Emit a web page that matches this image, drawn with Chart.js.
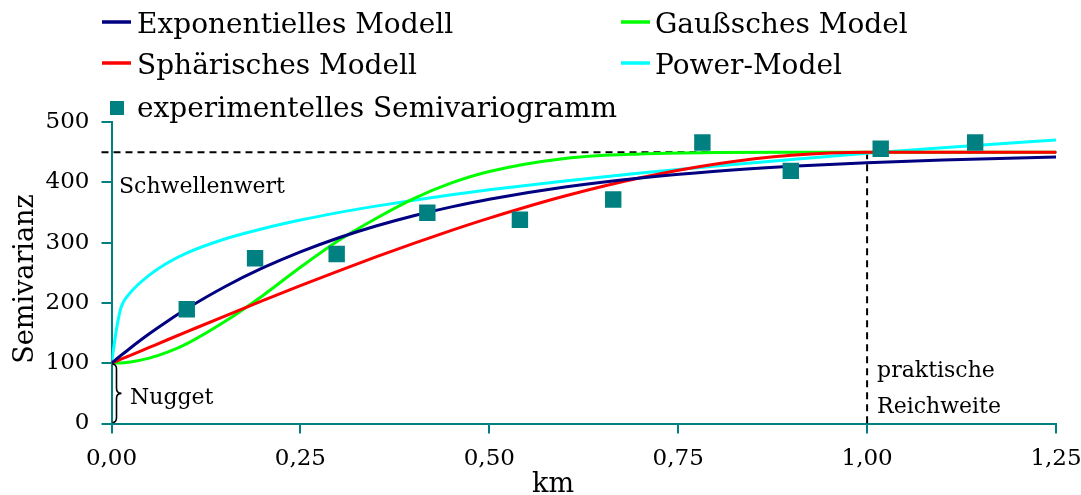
<!DOCTYPE html>
<html>
<head>
<meta charset="utf-8">
<script src="https://cdn.jsdelivr.net/npm/chart.js@4"></script>
<style>
  html, body { margin: 0; padding: 0; background: #ffffff; }
  #wrap { width: 1081px; height: 495px; position: relative; }
</style>
</head>
<body>
<div id="wrap"><canvas id="c" width="1081" height="495"></canvas></div>
<script>
// ---- data ----
const hKm = [0, 0.0025, 0.0075, 0.0125, 0.025, 0.05, 0.075, 0.1, 0.15, 0.2, 0.25, 0.3, 0.35, 0.4, 0.45, 0.5, 0.6, 0.7, 0.8, 0.9, 1.0, 1.1, 1.25];
const exponentiell = [100, 102.6, 107.8, 112.9, 125.3, 148.8, 170.5, 190.7, 226.8, 257.9, 284.7, 307.7, 327.5, 344.6, 359.3, 371.9, 392.1, 407.1, 418.3, 426.5, 432.6, 437.1, 441.8];
const sphaerisch = [100, 101.3, 103.9, 106.6, 113.1, 126.2, 139.3, 152.3, 178.2, 203.6, 228.5, 252.8, 276.3, 298.8, 320.3, 340.6, 377.2, 407.5, 430.4, 444.9, 450, 450, 450];
const gauss = [100, 100, 100.2, 100.5, 102.1, 108.4, 118.7, 132.6, 169.1, 212, 259, 303, 340, 373, 399, 418, 439.6, 447.1, 449.3, 449.9, 450, 450, 450];
const power = [100, 122, 163, 192, 217, 246, 267, 283, 306, 323, 337.4, 349.7, 360.5, 370.3, 379.2, 387.5, 402.2, 415.4, 427.2, 438, 448, 457.3, 470];

const expLagKm = [0.0996, 0.190, 0.298, 0.418, 0.5405, 0.664, 0.782, 0.899, 1.018, 1.143];
const expGamma = [189.5, 274, 281, 349.4, 337.8, 371.5, 466, 419, 455.6, 466];

const xTickLabels = ['0,00', '0,25', '0,50', '0,75', '1,00', '1,25'];
const yTickLabels = ['0', '100', '200', '300', '400', '500'];

const schwellenwert = 450;   // sill
const nugget = 100;
const reichweite = 1.0;      // practical range (km)

const labels = ['experimentelles Semivariogramm', 'Exponentielles Modell', 'Sphärisches Modell', 'Gaußsches Model', 'Power-Model'];

// ---- helpers ----
const pts = (xs, ys) => xs.map((x, i) => ({ x: x, y: ys[i] }));
const TEAL = '#008080';
const FONT = 'DejaVu Serif';

function lineDs(label, ys, color) {
  return {
    label: label, data: pts(hKm, ys), showLine: true, borderColor: color, backgroundColor: color,
    borderWidth: 3, pointRadius: 0, cubicInterpolationMode: 'monotone', fill: false
  };
}

const overlay = {
  id: 'overlay',
  beforeDatasetsDraw(chart) {
    const ctx = chart.ctx, xs = chart.scales.x, ys = chart.scales.y;
    ctx.save();
    ctx.strokeStyle = '#000';
    ctx.lineWidth = 2;
    ctx.setLineDash([7, 5]);
    const yS = ys.getPixelForValue(schwellenwert);
    ctx.beginPath();
    ctx.moveTo(xs.getPixelForValue(0) - 10, yS);
    ctx.lineTo(xs.getPixelForValue(1.25) + 4, yS);
    ctx.stroke();
    const xR = xs.getPixelForValue(reichweite);
    ctx.beginPath();
    ctx.moveTo(xR, yS);
    ctx.lineTo(xR, ys.getPixelForValue(0));
    ctx.stroke();
    ctx.restore();
  },
  afterDraw(chart) {
    const ctx = chart.ctx, xs = chart.scales.x, ys = chart.scales.y;
    const ds = chart.data.datasets;
    ctx.save();
    ctx.fillStyle = '#000';
    ctx.textBaseline = 'alphabetic';
    ctx.textAlign = 'left';
    // legend
    ctx.font = '28px "' + FONT + '"';
    const items = [
      { d: 1, lx: 102, tx: 137, ly: 22, by: 33 },
      { d: 2, lx: 102, tx: 137, ly: 63, by: 74 },
      { d: 3, lx: 621, tx: 655, ly: 22, by: 33 },
      { d: 4, lx: 621, tx: 655, ly: 63, by: 74 }
    ];
    items.forEach(it => {
      ctx.strokeStyle = ds[it.d].borderColor;
      ctx.lineWidth = 3.5;
      ctx.beginPath();
      ctx.moveTo(it.lx, it.ly);
      ctx.lineTo(it.lx + 29, it.ly);
      ctx.stroke();
      ctx.fillStyle = '#000';
      ctx.fillText(ds[it.d].label, it.tx, it.by);
    });
    ctx.fillStyle = ds[0].backgroundColor;
    ctx.fillRect(110, 101, 14, 14);
    ctx.fillStyle = '#000';
    ctx.fillText(ds[0].label, 137, 116.5);

    // annotations
    ctx.font = '22px "' + FONT + '"';
    ctx.fillText('Schwellenwert', 119, 193);
    ctx.fillText('Nugget', 130, 404);
    const xR = xs.getPixelForValue(reichweite);
    ctx.fillText('praktische', xR + 10, 377);
    ctx.fillText('Reichweite', xR + 10, 413);

    // nugget brace
    const x0 = xs.getPixelForValue(0);
    const yTop = ys.getPixelForValue(nugget), yBot = ys.getPixelForValue(0);
    const yMid = (yTop + yBot) / 2;
    const bx = x0 + 5;
    ctx.strokeStyle = '#000';
    ctx.lineWidth = 1.6;
    ctx.beginPath();
    ctx.moveTo(x0 + 1, yTop + 1);
    ctx.quadraticCurveTo(bx, yTop + 1, bx, yTop + 6);
    ctx.lineTo(bx, yMid - 5);
    ctx.quadraticCurveTo(bx, yMid, bx + 5, yMid);
    ctx.quadraticCurveTo(bx, yMid, bx, yMid + 5);
    ctx.lineTo(bx, yBot - 6);
    ctx.quadraticCurveTo(bx, yBot - 1, x0 + 1, yBot - 1);
    ctx.stroke();

    // axis titles
    ctx.font = '27px "' + FONT + '"';
    ctx.textAlign = 'center';
    ctx.fillText('km', 553, 492);
    ctx.save();
    ctx.translate(33, 279);
    ctx.rotate(-Math.PI / 2);
    ctx.fillText('Semivarianz', 0, 0);
    ctx.restore();
    ctx.restore();
  }
};

Chart.defaults.font.family = FONT;
Chart.defaults.color = '#000';

new Chart(document.getElementById('c'), {
  type: 'scatter',
  data: {
    datasets: [
      { label: labels[0], data: pts(expLagKm, expGamma), backgroundColor: TEAL, borderColor: TEAL,
        pointStyle: 'rect', pointRadius: 11.6, borderWidth: 0, showLine: false },
      lineDs(labels[1], exponentiell, '#000080'),
      lineDs(labels[2], sphaerisch, '#ff0000'),
      lineDs(labels[3], gauss, '#00ff00'),
      lineDs(labels[4], power, '#00ffff')
    ]
  },
  options: {
    responsive: false,
    animation: false,
    layout: { padding: { top: 122, right: 25, bottom: 0, left: 0 } },
    plugins: { legend: { display: false }, tooltip: { enabled: false } },
    scales: {
      x: {
        type: 'linear', min: 0, max: 1.25,
        afterFit: s => { s.height = 71.5; s.paddingLeft = 0; s.paddingRight = 0; },
        border: { display: true, color: TEAL, width: 2 },
        grid: { display: true, drawOnChartArea: false, drawTicks: true, tickLength: 10, color: TEAL, lineWidth: 2 },
        ticks: { stepSize: 0.25, padding: 12, font: { size: 23 }, maxRotation: 0,
          callback: (v, i) => xTickLabels[i] }
      },
      y: {
        type: 'linear', min: 0, max: 500,
        afterFit: s => { s.width = 111.5; s.paddingTop = 0; s.paddingBottom = 0; },
        border: { display: true, color: TEAL, width: 2 },
        grid: { display: true, drawOnChartArea: false, drawTicks: true, tickLength: 10, color: TEAL, lineWidth: 2 },
        ticks: { stepSize: 100, padding: 12, font: { size: 23 },
          callback: (v, i) => yTickLabels[i] }
      }
    }
  },
  plugins: [overlay]
});
</script>
</body>
</html>
